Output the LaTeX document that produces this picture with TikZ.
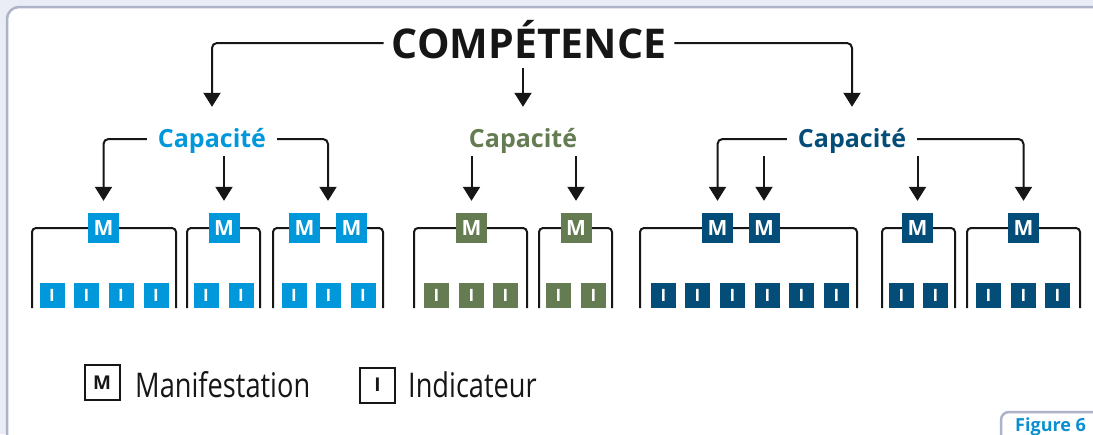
\documentclass[tikz,border=0pt]{standalone}
\usepackage{fontspec}
\setmainfont{Open Sans}
\newfontfamily\legendfont[FakeStretch=0.8]{Open Sans}
\usetikzlibrary{arrows.meta,calc}

\definecolor{capblue}{RGB}{0,152,218}
\definecolor{capgreen}{RGB}{101,123,82}
\definecolor{capnavy}{RGB}{4,77,120}
\definecolor{pagebg}{RGB}{234,236,246}
\definecolor{frameline}{RGB}{174,179,202}
\definecolor{tabblue}{RGB}{10,143,208}
\definecolor{ink}{RGB}{22,22,22}

\tikzset{
  conn/.style={line width=2pt, draw=ink, rounded corners=5pt},
  arr/.style={conn, -{Triangle[width=17pt,length=14pt]}},
  bracketbox/.style={line width=2pt, draw=ink, rounded corners=4pt},
  mbox/.style={fill=#1, minimum width=31pt, minimum height=30pt, inner sep=0pt,
    text=white, font=\fontsize{21}{21}\selectfont\bfseries},
  ibox/.style={fill=#1, minimum size=25pt, inner sep=0pt,
    text=white, font=\fontsize{17}{17}\selectfont\bfseries},
  captext/.style={text=#1, font=\fontsize{25}{25}\selectfont\bfseries,
    text height=21pt, text depth=5pt, inner ysep=0pt, inner xsep=11pt},
  legbox/.style={draw=ink, line width=2pt, minimum size=35pt, inner sep=0pt,
    text=ink, font=\fontsize{19}{19}\selectfont\bfseries},
  legtext/.style={text=ink, font=\legendfont\fontsize{34}{34}\selectfont,
    inner sep=0pt, anchor=base west},
}

\begin{document}
\begin{tikzpicture}[x=1pt,y=-1pt]
\useasboundingbox (0,0) rectangle (1093,434);

% page background and framed panel
\fill[pagebg] (0,0) rectangle (1093,434);
\filldraw[fill=white, draw=frameline, line width=2.5pt, rounded corners=12pt]
  (7,460) -- (7,7) -- (1110,7) -- (1110,460) -- cycle;

% top level
\node[text=ink, font=\fontsize{41}{41}\selectfont\bfseries,
      text height=36pt, text depth=6pt, inner ysep=0pt, inner xsep=8pt]
  (comp) at (529,43) {COMPÉTENCE};

% capacities
\node[captext=capblue]  (cap1) at (212,139) {Capacité};
\node[captext=capgreen] (cap2) at (523,139) {Capacité};
\node[captext=capnavy]  (cap3) at (852,139) {Capacité};

% open brackets grouping manifestations and indicators
\draw[bracketbox] (32,308) -- (32,228) -- (176,228) -- (176,308);
\draw[bracketbox] (187,308) -- (187,228) -- (260,228) -- (260,308);
\draw[bracketbox] (273,308) -- (273,228) -- (383,228) -- (383,308);
\draw[bracketbox] (414,308) -- (414,228) -- (527,228) -- (527,308);
\draw[bracketbox] (539,308) -- (539,228) -- (612,228) -- (612,308);
\draw[bracketbox] (640,308) -- (640,228) -- (857,228) -- (857,308);
\draw[bracketbox] (882,308) -- (882,228) -- (955,228) -- (955,308);
\draw[bracketbox] (967,308) -- (967,228) -- (1080,228) -- (1080,308);

% manifestations
\node[mbox=capblue]  (m1)  at (103.5,228) {M};
\node[mbox=capblue]  (m2)  at (224,228)   {M};
\node[mbox=capblue]  (m3)  at (304.5,228) {M};
\node[mbox=capblue]  (m4)  at (351.5,228) {M};
\node[mbox=capgreen] (m5)  at (471.5,228) {M};
\node[mbox=capgreen] (m6)  at (576,228)   {M};
\node[mbox=capnavy]  (m7)  at (717.5,228) {M};
\node[mbox=capnavy]  (m8)  at (764,228)   {M};
\node[mbox=capnavy]  (m9)  at (917.5,228) {M};
\node[mbox=capnavy]  (m10) at (1023.5,228) {M};
\coordinate (m34) at ($(m3.north)!0.5!(m4.north)$);

% indicators
\foreach \x [count=\k] in {52,86.5,121,156,206,241,294,328.5,363}
  \node[ibox=capblue] (ib\k) at (\x,295.5) {I};
\foreach \x [count=\k] in {436.5,471.5,505.5,558.5,593.5}
  \node[ibox=capgreen] (ig\k) at (\x,295.5) {I};
\foreach \x [count=\k] in {663.5,697.5,732.5,767.5,801.5,836.5,901.5,935.5,988.5,1023.5,1057.5}
  \node[ibox=capnavy] (in\k) at (\x,295.5) {I};

% competence -> capacities
\draw[arr, shorten >=19pt] (comp.west) -| (cap1.north);
\draw[arr, shorten >=19pt] (comp.east) -| (cap3.north);
\draw[arr, shorten <=4pt, shorten >=19pt] (comp.south -| cap2.north) -- (cap2.north);

% capacities -> manifestations
\draw[arr, shorten >=12pt] (cap1.west) -| (m1.north);
\draw[arr, shorten <=4pt, shorten >=12pt] (cap1.south -| m2.north) -- (m2.north);
\draw[arr, shorten >=12pt] (cap1.east) -| (m34);
\draw[arr, shorten <=4pt, shorten >=12pt] (cap2.south -| m5.north) -- (m5.north);
\draw[arr, shorten <=4pt, shorten >=12pt] (cap2.south -| m6.north) -- (m6.north);
\draw[arr, shorten >=12pt] (cap3.west) -| (m7.north);
\draw[arr, shorten <=4pt, shorten >=12pt] (cap3.south -| m8.north) -- (m8.north);
\draw[arr, shorten <=4pt, shorten >=12pt] (cap3.south -| m9.north) -- (m9.north);
\draw[arr, shorten >=12pt] (cap3.east) -| (m10.north);

% legend
\node[legbox] (legm) at (102,382.5) {M};
\node[legtext] (legmt) at (135,397) {Manifestation};
\node[legbox] (legi) at (377.5,385) {I};
\node[legtext] (legit) at (408,397) {Indicateur};

% figure tab
\filldraw[fill=white, draw=frameline, line width=2.5pt, rounded corners=8pt]
  (1001,460) -- (1001,412) -- (1110,412) -- (1110,460) -- cycle;
\node[text=tabblue, font=\fontsize{18}{18}\selectfont\bfseries, inner sep=0pt,
      anchor=base west] (fig) at (1015,431) {Figure 6};
\end{tikzpicture}
\end{document}
